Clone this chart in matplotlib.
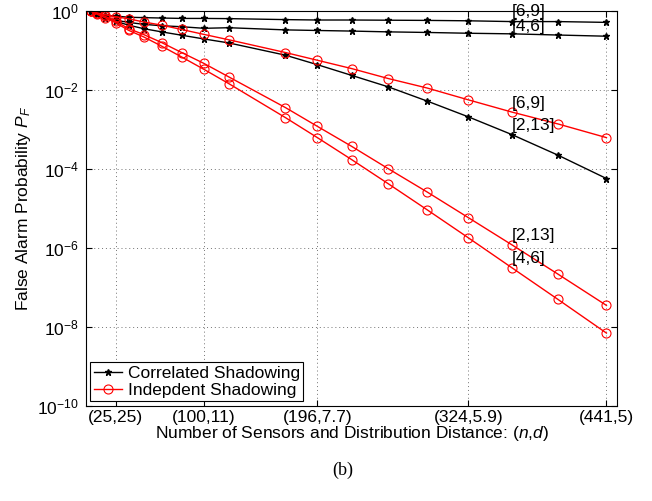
import matplotlib
matplotlib.use('Agg')
import matplotlib.pyplot as plt
import numpy as np

plt.rcParams['font.family'] = ['Liberation Sans', 'DejaVu Sans']
plt.rcParams['mathtext.fontset'] = 'custom'
plt.rcParams['mathtext.rm'] = 'Liberation Sans'
plt.rcParams['mathtext.it'] = 'Liberation Sans:italic'
plt.rcParams['font.size'] = 12.5

# number of sensors n (x axis)
n = [4, 9, 16, 25, 36, 49, 64, 81, 100, 121, 169, 196, 225, 256, 289, 324, 361, 400, 441]

# log10 of false alarm probability
corr_69 = [-0.02, -0.07, -0.12, -0.14, -0.17, -0.18, -0.19, -0.20, -0.20, -0.205,
           -0.23, -0.24, -0.24, -0.245, -0.25, -0.26, -0.28, -0.28, -0.30]
corr_46 = [-0.02, -0.08, -0.18, -0.245, -0.30, -0.35, -0.385, -0.41, -0.45, -0.435,
           -0.49, -0.505, -0.52, -0.54, -0.555, -0.575, -0.59, -0.62, -0.65]
corr_213 = [-0.03, -0.09, -0.17, -0.27, -0.37, -0.46, -0.54, -0.625, -0.72, -0.82,
            -1.13, -1.37, -1.64, -1.93, -2.29, -2.69, -3.14, -3.66, -4.25]
ind_69 = [-0.005, -0.056, -0.106, -0.157, -0.21, -0.29, -0.37, -0.48, -0.605, -0.74,
          -1.063, -1.258, -1.468, -1.72, -1.96, -2.26, -2.57, -2.87, -3.215]
ind_213 = [-0.005, -0.07, -0.145, -0.27, -0.456, -0.61, -0.81, -1.063, -1.34, -1.68,
           -2.456, -2.93, -3.435, -4.0, -4.59, -5.24, -5.93, -6.67, -7.46]
ind_46 = [-0.02, -0.09, -0.18, -0.31, -0.50, -0.67, -0.90, -1.175, -1.49, -1.85,
          -2.71, -3.215, -3.77, -4.38, -5.04, -5.75, -6.51, -7.31, -8.16]

xtick_pos = [25, 100, 196, 324, 441]
xtick_labels = ['(25,25)', '(100,11)', '(196,7.7)', '(324,5.9)', '(441,5)']

label_n = 361
labels_corr = ['[6,9]', '[4,6]', '[2,13]']
labels_ind = ['[6,9]', '[2,13]', '[4,6]']

fig = plt.figure(figsize=(6.52, 5.01), dpi=100)
ax = fig.add_axes([0.132, 0.190, 0.8144, 0.789])

corr = [corr_69, corr_46, corr_213]
ind = [ind_69, ind_213, ind_46]

for i, s in enumerate(corr):
    ax.semilogy(n, 10 ** np.array(s), 'k-', marker='*', markersize=4.5, lw=1,
                label='Correlated Shadowing' if i == 0 else None)
for i, s in enumerate(ind):
    ax.semilogy(n, 10 ** np.array(s), 'r-', marker='o', markersize=6.5, mfc='none',
                mew=0.8, lw=1, label='Indepdent Shadowing' if i == 0 else None)

# small per-label vertical nudges (points) so the two top labels just touch
offsets = [7.5, 5.5, 6.5, 6.5, 6.5, 6.5]
k = n.index(label_n)
for s, t, dy in zip(corr + ind, labels_corr + labels_ind, offsets):
    ax.annotate(t, (label_n, 10 ** s[k]), xytext=(-0.5, dy), textcoords='offset points',
                ha='left', va='center')

ax.set_xlim(0, 450)
ax.set_ylim(1e-10, 1)
ax.set_xticks(xtick_pos)
ax.set_xticklabels(xtick_labels)
ax.set_yticks([1e0, 1e-2, 1e-4, 1e-6, 1e-8, 1e-10])
ax.minorticks_off()
ax.tick_params(direction='in', top=True, right=True, length=4)
ax.tick_params(axis='x', pad=3)
ax.tick_params(axis='y', pad=5)
ax.grid(True, linestyle=(0, (1, 3)), color='0.45', lw=0.7)

ax.set_xlabel('Number of Sensors and Distribution Distance: ($n$,$d$)', labelpad=-1)
ax.set_ylabel('False Alarm Probability $P_F$', labelpad=3)

leg = ax.legend(loc='lower left', fancybox=False, edgecolor='k', framealpha=1,
                handlelength=1.6, handletextpad=0.35, labelspacing=0.1,
                borderaxespad=0.25, borderpad=0.2)
leg.get_frame().set_linewidth(0.8)

fig.text(0.525, 0.062, '(b)', family='Liberation Serif', fontsize=13,
         ha='center', va='center')

fig.savefig('out.png', dpi=100)
